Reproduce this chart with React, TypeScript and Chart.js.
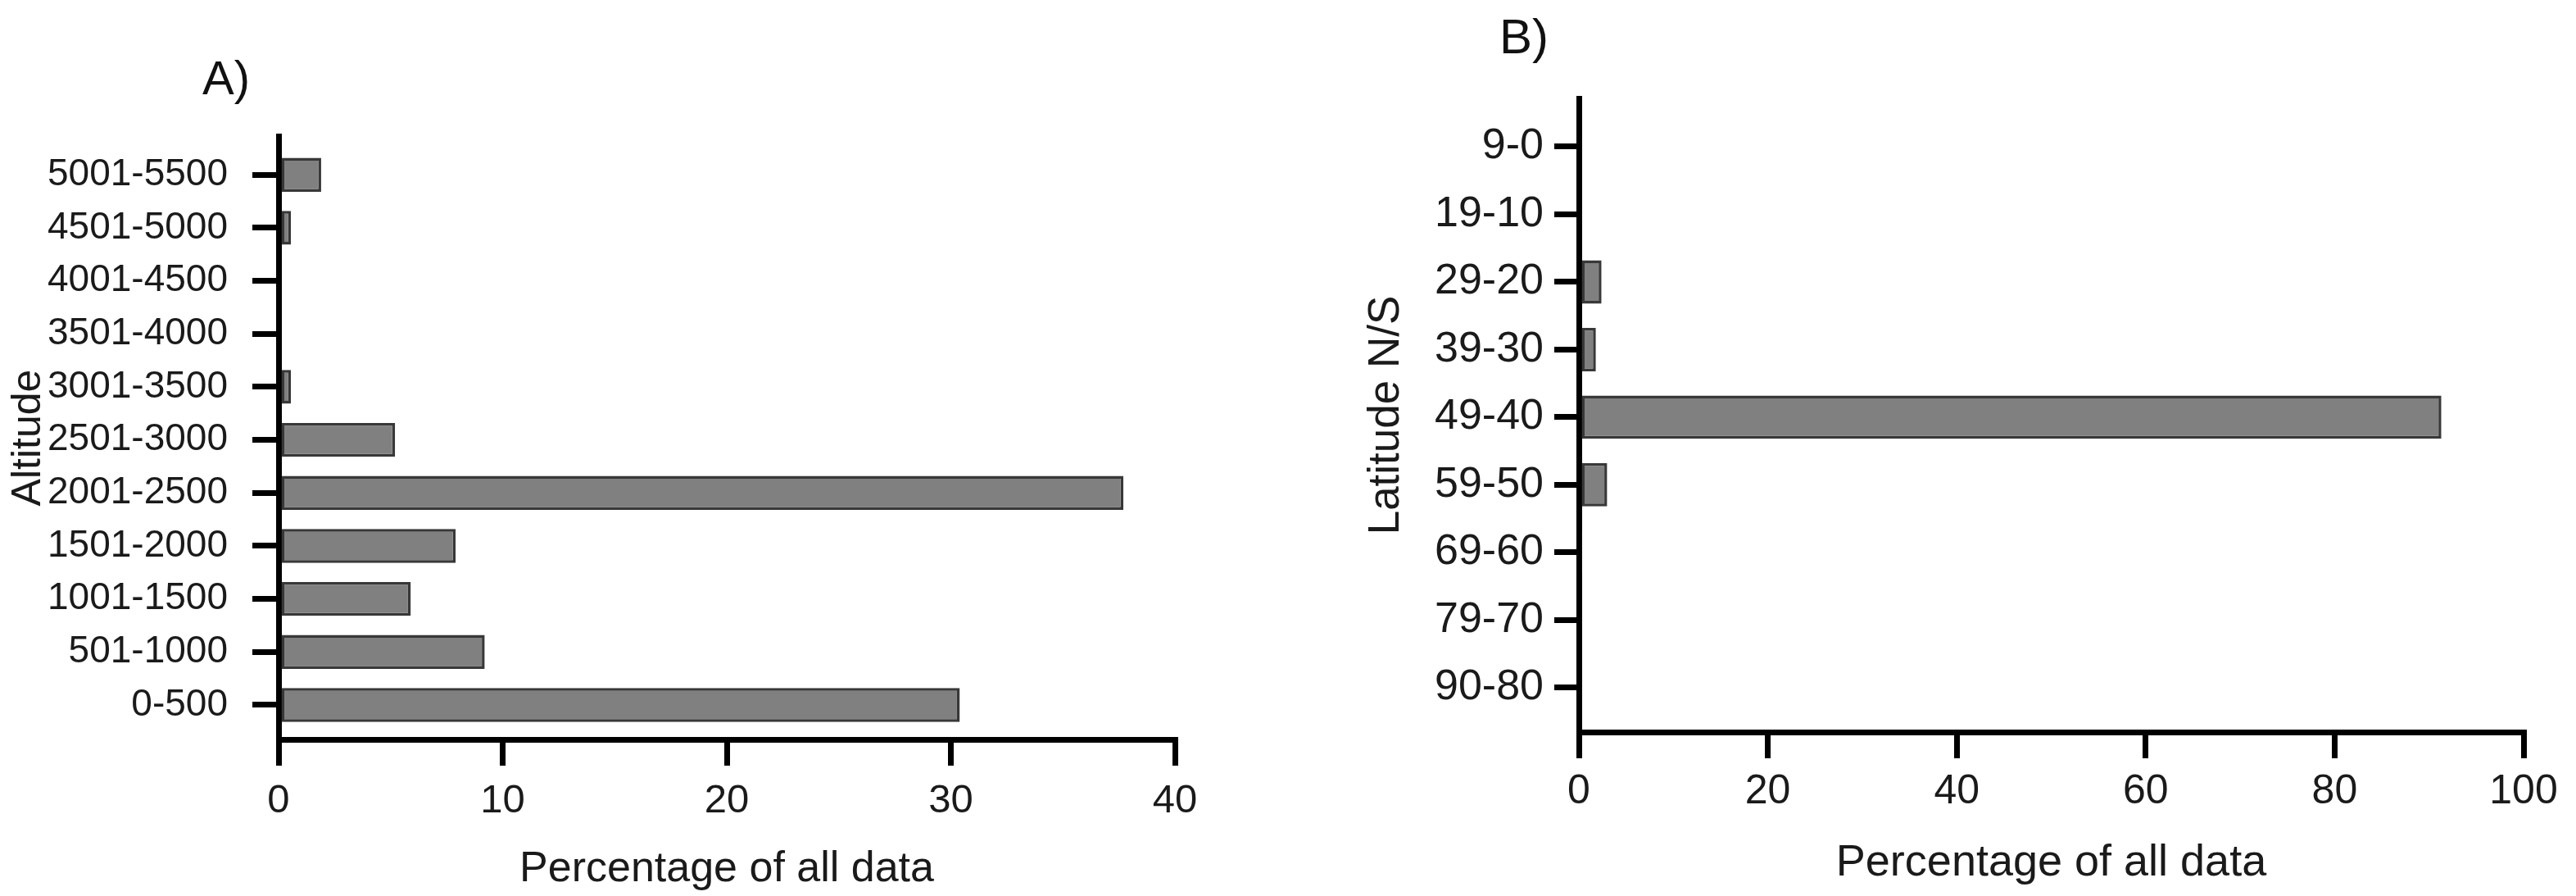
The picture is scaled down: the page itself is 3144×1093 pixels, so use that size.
import React, { useEffect, useRef } from 'react';
import { Chart, registerables } from 'chart.js';

Chart.register(...registerables);

// ---------- data ----------
const altitudeLabels = [
  '5001-5500', '4501-5000', '4001-4500', '3501-4000', '3001-3500', '2501-3000',
  '2001-2500', '1501-2000', '1001-1500', '501-1000', '0-500',
];
const altitudeValues = [1.9, 0.55, 0, 0, 0.55, 5.2, 37.7, 7.9, 5.9, 9.2, 30.4];
const altitudeXTicks = [0, 10, 20, 30, 40];

const latitudeLabels = ['9-0', '19-10', '29-20', '39-30', '49-40', '59-50', '69-60', '79-70', '90-80'];
const latitudeValues = [0, 0, 2.4, 1.8, 91.3, 3.0, 0.35, 0, 0];
const latitudeXTicks = [0, 20, 40, 60, 80, 100];

const FONT = '"Liberation Sans", Arial, Helvetica, sans-serif';
const TEXT = '#1a1a1a';
const W = 1572;
const H = 1093;
const AXIS_W = 7;

type PanelSpec = {
  panel: string;
  panelFont: number;
  panelDx: number;
  panelDy: number;
  labels: string[];
  values: number[];
  xTicks: number[];
  yTitle: string;
  yTitleFont: number;
  yTitlePad: number;
  yTickFont: number;
  yTickPad: number;
  yTickLen: number;
  yMin: number;
  yMax: number;
  yWidth: number;
  xTickFont: number;
  xTickPad: number;
  xTitleFont: number;
  xTitlePad: number;
  xHeight: number;
  top: number;
  right: number;
};

function makeChart(canvas: HTMLCanvasElement, s: PanelSpec) {
  const panelTitle = {
    id: 'panelTitle',
    afterDraw(chart: any) {
      const { ctx, chartArea } = chart;
      ctx.save();
      ctx.font = `${s.panelFont}px ${FONT}`;
      ctx.fillStyle = '#111';
      ctx.textBaseline = 'alphabetic';
      ctx.textAlign = 'left';
      ctx.fillText(s.panel, chartArea.left + s.panelDx, chartArea.top + s.panelDy);
      ctx.restore();
    },
  };

  return new Chart(canvas, {
    type: 'bar',
    data: {
      datasets: [
        {
          data: s.labels.map((_, i) => ({ x: s.values[i], y: i })),
          backgroundColor: '#808080',
          borderColor: '#383838',
          borderWidth: 3.5,
          borderSkipped: false,
          categoryPercentage: 1,
          barPercentage: 0.64,
        },
      ],
    },
    options: {
      indexAxis: 'y',
      animation: false,
      responsive: false,
      devicePixelRatio: 1,
      layout: { padding: { left: 0, top: s.top, right: s.right, bottom: 0 } },
      plugins: { legend: { display: false }, tooltip: { enabled: false } },
      scales: {
        y: {
          type: 'linear',
          reverse: true,
          offset: false,
          min: s.yMin,
          max: s.yMax,
          z: 1,
          afterFit: (sc: any) => {
            sc.width = s.yWidth;
          },
          afterBuildTicks: (sc: any) => {
            sc.ticks = s.labels.map((_, i) => ({ value: i }));
          },
          ticks: {
            autoSkip: false,
            padding: s.yTickPad,
            color: TEXT,
            font: { family: FONT, size: s.yTickFont },
            callback: (v: any) => s.labels[v as number] ?? '',
          },
          grid: {
            display: true,
            offset: false,
            drawOnChartArea: false,
            drawTicks: true,
            tickLength: s.yTickLen,
            tickWidth: AXIS_W,
            tickColor: '#000',
            lineWidth: AXIS_W,
            color: '#000',
          },
          border: { display: true, width: AXIS_W, color: '#000' },
          title: {
            display: true,
            text: s.yTitle,
            color: TEXT,
            font: { family: FONT, size: s.yTitleFont },
            padding: { top: s.yTitlePad, bottom: 0 },
          },
        },
        x: {
          type: 'linear',
          offset: false,
          min: s.xTicks[0],
          max: s.xTicks[s.xTicks.length - 1],
          afterFit: (sc: any) => {
            sc.height = s.xHeight;
          },
          afterBuildTicks: (sc: any) => {
            sc.ticks = s.xTicks.map((v) => ({ value: v }));
          },
          ticks: {
            autoSkip: false,
            padding: s.xTickPad,
            color: TEXT,
            maxRotation: 0,
            font: { family: FONT, size: s.xTickFont },
          },
          grid: {
            display: true,
            offset: false,
            drawOnChartArea: false,
            drawTicks: true,
            tickLength: 32,
            tickWidth: AXIS_W,
            tickColor: '#000',
            lineWidth: AXIS_W,
            color: '#000',
          },
          border: { display: true, width: AXIS_W, color: '#000' },
          title: {
            display: true,
            text: 'Percentage of all data',
            color: TEXT,
            font: { family: FONT, size: s.xTitleFont },
            padding: { top: 0, bottom: s.xTitlePad },
          },
        },
      },
    },
    plugins: [panelTitle],
  } as any);
}

const specA: PanelSpec = {
  panel: 'A)',
  panelFont: 58,
  panelDx: -93,
  panelDy: -51,
  labels: altitudeLabels,
  values: altitudeValues,
  xTicks: altitudeXTicks,
  yTitle: 'Altitude',
  yTitleFont: 50,
  yTitlePad: 5,
  yTickFont: 46,
  yTickPad: 30,
  yTickLen: 32,
  yMin: -0.73,
  yMax: 10.65,
  yWidth: 340,
  xTickFont: 49,
  xTickPad: 14,
  xTitleFont: 52,
  xTitlePad: 1,
  xHeight: H - 902,
  top: 166,
  right: W - 1434,
};

const specB: PanelSpec = {
  panel: 'B)',
  panelFont: 60,
  panelDx: -97,
  panelDy: -55,
  labels: latitudeLabels,
  values: latitudeValues,
  xTicks: latitudeXTicks,
  yTitle: 'Latitude N/S',
  yTitleFont: 53,
  yTitlePad: 89,
  yTickFont: 52,
  yTickPad: 13,
  yTickLen: 30,
  yMin: -0.715,
  yMax: 8.655,
  yWidth: 355,
  xTickFont: 50,
  xTickPad: 11,
  xTitleFont: 54,
  xTitlePad: 7,
  xHeight: H - 893,
  top: 120,
  right: W - (3080 - 1572),
};

export default function App() {
  const refA = useRef<HTMLCanvasElement>(null);
  const refB = useRef<HTMLCanvasElement>(null);

  useEffect(() => {
    document.body.style.margin = '0';
    document.body.style.overflow = 'hidden';
    const a = refA.current ? makeChart(refA.current, specA) : null;
    const b = refB.current ? makeChart(refB.current, specB) : null;
    return () => {
      a?.destroy();
      b?.destroy();
    };
  }, []);

  return (
    <div style={{ position: 'absolute', left: 0, top: 0, width: 3144, height: H, background: '#fff' }}>
      <canvas
        ref={refA}
        width={W}
        height={H}
        style={{ position: 'absolute', left: 0, top: 0, width: W, height: H }}
      />
      <canvas
        ref={refB}
        width={W}
        height={H}
        style={{ position: 'absolute', left: W, top: 0, width: W, height: H }}
      />
    </div>
  );
}
